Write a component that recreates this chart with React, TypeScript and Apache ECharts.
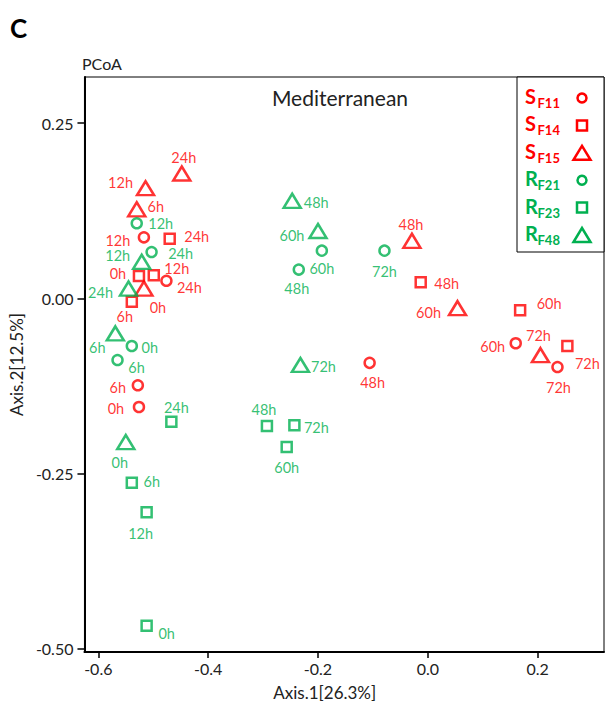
import React, { useEffect, useRef } from 'react';
import * as echarts from 'echarts';

const timepoints = ['0h', '6h', '12h', '24h', '48h', '60h', '72h'];

// S_F11 (red circles)
const sF11X = [-0.526, -0.528, -0.517, -0.476, -0.106, 0.160, 0.236];
const sF11Y = [-0.155, -0.124, 0.087, 0.025, -0.092, -0.064, -0.098];
// S_F14 (red squares)
const sF14X = [-0.526, -0.539, -0.499, -0.470, -0.013, 0.168, 0.254];
const sF14Y = [0.032, -0.005, 0.033, 0.085, 0.023, -0.017, -0.068];
// S_F15 (red triangles)
const sF15X = [-0.517, -0.530, -0.514, -0.448, -0.029, 0.054, 0.205];
const sF15Y = [0.014, 0.127, 0.157, 0.178, 0.082, -0.014, -0.081];
// R_F21 (green circles)
const rF21X = [-0.539, -0.565, -0.530, -0.503, -0.235, -0.193, -0.079];
const rF21Y = [-0.068, -0.088, 0.107, 0.066, 0.041, 0.068, 0.068];
// R_F23 (green squares)
const rF23X = [-0.512, -0.539, -0.512, -0.467, -0.293, -0.257, -0.243];
const rF23Y = [-0.467, -0.263, -0.305, -0.176, -0.182, -0.212, -0.181];
// R_F48 (green triangles)
const rF48X = [-0.550, -0.569, -0.521, -0.545, -0.247, -0.200, -0.232];
const rF48Y = [-0.205, -0.050, 0.052, 0.014, 0.139, 0.096, -0.095];

const xTicks = [-0.6, -0.4, -0.2, 0.0, 0.2];
const yTicks = [-0.5, -0.25, 0, 0.25];

// label placement (style only): pixel offsets of each label from its point
const offSF11 = [[-23, 1], [-20, 2], [-26, 3], [23, 7], [3, 20], [-23, 3], [1, 20]];
const offSF14 = [[-21, -2], [-7, 15], [23, -7], [27, -2], [26, 1], [29, -7], [20, 17]];
const offSF15 = [[14, 19], [19, -3], [-25, -6], [2, -16], [-1, -16], [-29, 4], [-2, -20]];
const offRF21 = [[18, 1], [19, 7], [24, 0], [29, 1], [-2, 19], [0, 18], [0, 21]];
const offRF23 = [[20, 8], [20, -1], [-6, 21], [5, -14], [-3, -16], [0, 20], [22, 2]];
const offRF48 = [[-6, 20], [-18, 14], [-24, -6], [-28, 4], [24, 2], [-26, 4], [23, 2]];

const RED = '#FF0000';
const GREEN = '#00B050';
const FONT = 'Lato';

const legendRows = [
  { main: 'S', sub: 'F11', color: RED, shape: 'circle' },
  { main: 'S', sub: 'F14', color: RED, shape: 'rect' },
  { main: 'S', sub: 'F15', color: RED, shape: 'triangle' },
  { main: 'R', sub: 'F21', color: GREEN, shape: 'circle' },
  { main: 'R', sub: 'F23', color: GREEN, shape: 'rect' },
  { main: 'R', sub: 'F48', color: GREEN, shape: 'triangle' },
];

function makeSeries(name: string, xs: number[], ys: number[], offs: number[][], symbol: string, color: string) {
  return {
    type: 'scatter',
    name,
    symbol,
    symbolSize: symbol === 'triangle' ? [17, 14] : 10,
    itemStyle: { color: 'rgba(0,0,0,0)', borderColor: color, borderWidth: 2.5 },
    label: {
      show: true,
      position: 'inside',
      formatter: '{b}',
      color,
      fontSize: 14.5,
      fontFamily: FONT,
      textBorderWidth: 0,
    },
    emphasis: { disabled: true },
    data: xs.map((x, i) => ({
      name: timepoints[i],
      value: [x, ys[i]],
      label: { offset: offs[i] },
    })),
  };
}

function legendGraphics() {
  const els: any[] = [
    {
      type: 'rect',
      shape: { x: 517, y: 77, width: 87, height: 175 },
      style: { fill: '#fff', stroke: '#000', lineWidth: 1 },
      z: 10,
    },
  ];
  legendRows.forEach((r, i) => {
    const cy = 96 + 27.4 * i;
    els.push({
      type: 'text',
      x: 525,
      y: cy,
      style: { text: r.main, fill: r.color, font: `bold 20px ${FONT}`, textAlign: 'left', textVerticalAlign: 'middle' },
      z: 11,
    });
    els.push({
      type: 'text',
      x: 537.5,
      y: cy + 7,
      style: { text: r.sub, fill: r.color, font: `bold 13px ${FONT}`, textAlign: 'left', textVerticalAlign: 'middle' },
      z: 11,
    });
    const mx = 582;
    const my = cy + 2;
    const st = { fill: 'none', stroke: r.color, lineWidth: 2.5 };
    if (r.shape === 'circle') {
      els.push({ type: 'circle', shape: { cx: mx, cy: my, r: 4.5 }, style: st, z: 11 });
    } else if (r.shape === 'rect') {
      els.push({ type: 'rect', shape: { x: mx - 5, y: my - 5, width: 10, height: 10 }, style: st, z: 11 });
    } else {
      els.push({
        type: 'polygon',
        shape: { points: [[mx - 8.5, my + 7], [mx + 8.5, my + 7], [mx, my - 7]] },
        style: st,
        z: 11,
      });
    }
  });
  return els;
}

export default function App() {
  const ref = useRef<HTMLDivElement>(null);
  useEffect(() => {
    if (!ref.current) return;
    const chart = echarts.init(ref.current, undefined, { renderer: 'svg' });
    chart.setOption({
      animation: false,
      backgroundColor: '#fff',
      textStyle: { fontFamily: FONT },
      grid: {
        left: 79,
        right: 3,
        top: 77,
        bottom: 54,
        show: true,
        borderColor: '#000',
        borderWidth: 1,
        containLabel: false,
      },
      xAxis: {
        type: 'value',
        min: -0.6252,
        max: 0.3207,
        name: 'Axis.1[26.3%]',
        nameLocation: 'middle',
        nameGap: 32,
        nameTextStyle: { fontSize: 17, color: '#222', fontFamily: FONT, padding: [0, 39, 0, 0] },
        axisLine: { show: true, onZero: false, lineStyle: { color: '#000', width: 2 } },
        axisTick: { show: true, length: 6, customValues: xTicks, lineStyle: { color: '#000', width: 1.5 } },
        axisLabel: {
          customValues: xTicks,
          formatter: (v: number) => v.toFixed(1),
          fontSize: 16,
          color: '#222',
          fontFamily: FONT,
          margin: 8,
        },
        splitLine: { show: false },
      },
      yAxis: {
        type: 'value',
        min: -0.5043,
        max: 0.3156,
        name: 'Axis.2[12.5%]',
        nameLocation: 'middle',
        nameGap: 50,
        nameTextStyle: { fontSize: 17, color: '#222', fontFamily: FONT },
        axisLine: { show: true, onZero: false, lineStyle: { color: '#000', width: 2 } },
        axisTick: { show: true, length: 7, customValues: yTicks, lineStyle: { color: '#000', width: 1.5 } },
        axisLabel: {
          customValues: yTicks,
          formatter: (v: number) => v.toFixed(2),
          fontSize: 16,
          color: '#222',
          fontFamily: FONT,
          margin: 11,
        },
        splitLine: { show: false },
      },
      graphic: [
        { type: 'text', x: 10, y: 28, style: { text: 'C', font: `bold 26px ${FONT}`, fill: '#000', textVerticalAlign: 'middle' } },
        { type: 'text', x: 82, y: 63, style: { text: 'PCoA', font: `16px ${FONT}`, fill: '#222', textVerticalAlign: 'middle' } },
        {
          type: 'text',
          x: 340,
          y: 97,
          style: { text: 'Mediterranean', font: `21px ${FONT}`, fill: '#222', textAlign: 'center', textVerticalAlign: 'middle' },
          z: 5,
        },
        ...legendGraphics(),
      ],
      series: [
        makeSeries('SF11', sF11X, sF11Y, offSF11, 'circle', RED),
        makeSeries('SF14', sF14X, sF14Y, offSF14, 'rect', RED),
        makeSeries('SF15', sF15X, sF15Y, offSF15, 'triangle', RED),
        makeSeries('RF21', rF21X, rF21Y, offRF21, 'circle', GREEN),
        makeSeries('RF23', rF23X, rF23Y, offRF23, 'rect', GREEN),
        makeSeries('RF48', rF48X, rF48Y, offRF48, 'triangle', GREEN),
      ],
    });
    return () => chart.dispose();
  }, []);
  return (
    <div
      ref={ref}
      style={{ position: 'fixed', left: 0, top: 0, width: 607, height: 706, background: '#fff' }}
    />
  );
}
